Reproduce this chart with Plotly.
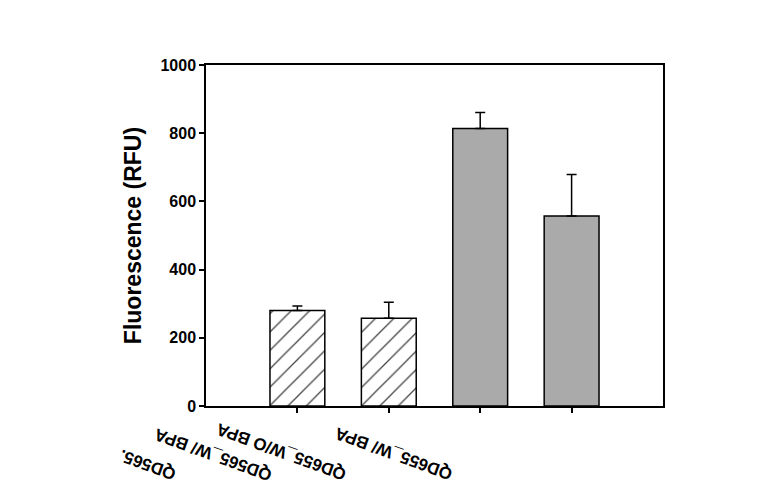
import plotly.graph_objects as go

# Data
bar_positions = [1, 2, 3, 4]
tick_labels = ["QD565.", "QD565_W/ BPA", "QD655_W/O BPA", "QD655_W/ BPA"]
values = [280, 257, 814, 557]
errors = [13, 47, 47, 122]
y_ticks = [0, 200, 400, 600, 800, 1000]

font_family = "Arial, Liberation Sans, sans-serif"

fig = go.Figure()
fig.add_trace(go.Bar(
    x=bar_positions,
    y=values,
    width=0.6,
    marker=dict(
        color=["white", "white", "#aaaaaa", "#aaaaaa"],
        line=dict(color="black", width=1.5),
        pattern=dict(shape=["/", "/", "", ""], fgcolor="black", fgopacity=1,
                     fillmode="overlay", size=13, solidity=0.1),
    ),
    error_y=dict(type="data", array=errors, arrayminus=[0, 0, 0, 0],
                 symmetric=False, color="black", thickness=1.5, width=5),
    showlegend=False,
))

# misplaced rotated category labels, as in the reference
label_shifts = [(-150, -59), (-176, -49), (-199, -46), (-178, -48)]
for pos, text, (dx, dy) in zip(bar_positions, tick_labels, label_shifts):
    fig.add_annotation(
        x=pos, xref="x", y=0, yref="paper",
        text=text, showarrow=False, textangle=-160,
        xanchor="center", yanchor="middle",
        xshift=dx, yshift=dy,
        font=dict(family=font_family, size=17, color="black", weight="bold"),
    )

fig.update_layout(
    width=781, height=491,
    margin=dict(l=198, r=126, t=57, b=93),
    paper_bgcolor="white", plot_bgcolor="white",
    bargap=0.4,
    font=dict(family=font_family, color="black"),
)
fig.update_xaxes(
    range=[0, 5], tickvals=bar_positions, ticktext=["" for _ in bar_positions],
    ticks="outside", ticklen=5, tickwidth=1.5, tickcolor="black",
    showline=True, linecolor="black", linewidth=1.5, mirror=True,
    showgrid=False, zeroline=False,
)
fig.update_yaxes(
    range=[0, 1000], tickvals=y_ticks,
    ticks="outside", ticklen=5, tickwidth=1.5, tickcolor="black",
    showline=True, linecolor="black", linewidth=1.5, mirror=True,
    showgrid=False, zeroline=False,
    tickfont=dict(family=font_family, size=16, color="black", weight="bold"),
    title=dict(text="Fluorescence (RFU)", standoff=12,
               font=dict(family=font_family, size=23, color="black", weight="bold")),
)

fig.write_html("out.html")
